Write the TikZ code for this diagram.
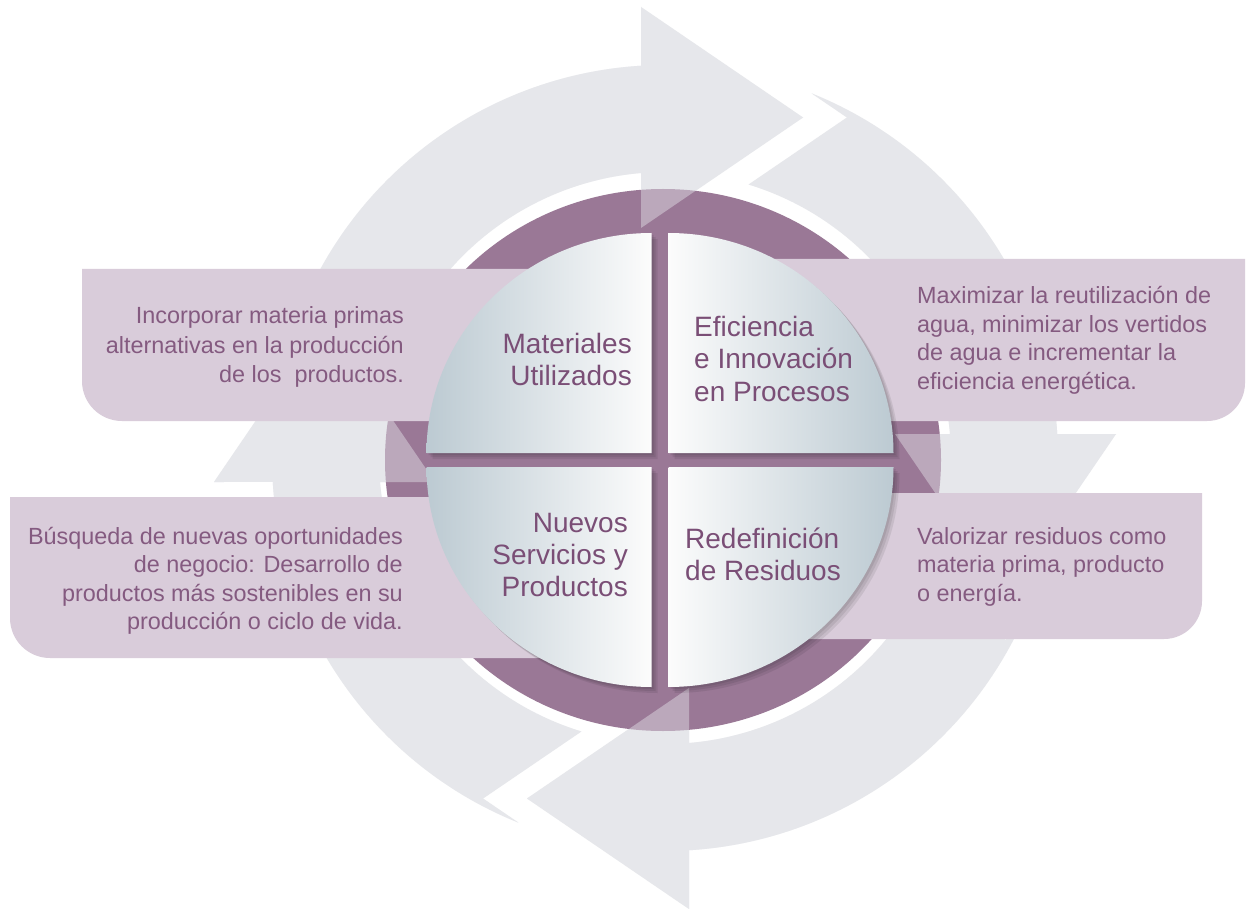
\documentclass[tikz,border=0pt]{standalone}
\usepackage{fontspec}
\setmainfont{Liberation Sans}
\definecolor{ringgray}{RGB}{230,231,235}
\definecolor{diskpurple}{RGB}{154,120,150}
\definecolor{boxlav}{RGB}{217,204,218}
\definecolor{qblue}{RGB}{188,202,210}
\definecolor{qwhite}{RGB}{252,252,252}
\definecolor{boxtext}{RGB}{132,90,128}
\definecolor{qtext}{RGB}{122,78,118}
\begin{document}
\begin{tikzpicture}[x=1pt,y=-1pt,
  boxtxt/.style={text=boxtext, font=\fontsize{23.4}{29}\selectfont, inner sep=0pt},
  qtxt/.style={text=qtext, font=\fontsize{28}{32}\selectfont, inner sep=0pt},
  boxshape/.style={fill=boxlav},
  qshadow/.style={fill=black, opacity=0.08},
  ringframe/.style={shift={(665,458)}, rotate=#1, yscale=-1},
  qframe/.style={shift={(660,460)}, yscale=-1}]
\fill[white] (0,0) rectangle (1248,909);
\useasboundingbox (0,0) rectangle (1248,909);

% circular arrows (opaque)
\foreach \rot in {0,-90,-180,-270}{
  \fill[ringgray, ringframe=\rot] (158.1:393) arc[start angle=158.1, end angle=93.5, radius=393]
    -- (-24,451) -- (138,340.5) -- (-24,230) -- (-24,285)
    arc[start angle=94.82, end angle=163.0, radius=286] -- (-340.5,182) -- cycle;
}
% purple disk
\fill[diskpurple] (663,460) ellipse [x radius=278, y radius=271];
% arrows again, translucent over the disk
\foreach \rot in {0,-90,-180,-270}{
  \fill[ringgray, opacity=0.44, ringframe=\rot] (158.1:393) arc[start angle=158.1, end angle=93.5, radius=393]
    -- (-24,451) -- (138,340.5) -- (-24,230) -- (-24,285)
    arc[start angle=94.82, end angle=163.0, radius=286] -- (-340.5,182) -- cycle;
}

% text boxes
\fill[boxshape] (600,269) -- (82,269) -- (82,381) .. controls (82,403.1) and (99.9,421) .. (122,421) -- (600,421) -- cycle;
\fill[boxshape] (720,259) -- (1245,259) -- (1245,383) .. controls (1245,404) and (1228,421) .. (1207,421) -- (720,421) -- cycle;
\fill[boxshape] (600,497) -- (10,497) -- (10,618) .. controls (10,640.1) and (27.9,658) .. (50,658) -- (600,658) -- cycle;
\fill[boxshape] (720,493) -- (1202,493) -- (1202,601) .. controls (1202,622) and (1185,639) .. (1164,639) -- (720,639) -- cycle;

% quadrant shadows
\begin{scope}[qframe]
\foreach \k in {2,4,6}{
  \fill[qshadow] (-8.5+\k,7-\k) -- (-233.5+\k,7-\k) arc[start angle=180, end angle=90, x radius=225, y radius=220] -- cycle;
  \fill[qshadow] (8.5+\k,7-\k) -- (8.5+\k,227-\k) arc[start angle=90, end angle=0, x radius=225, y radius=220] -- cycle;
  \fill[qshadow] (8.5+\k,-7-\k) -- (233.5+\k,-7-\k) arc[start angle=0, end angle=-90, x radius=225, y radius=220] -- cycle;
  \fill[qshadow] (-8.5+\k,-7-\k) -- (-8.5+\k,-227-\k) arc[start angle=-90, end angle=-180, x radius=225, y radius=220] -- cycle;
}
% quadrants
\shade[left color=qblue, right color=qwhite] (-8.5,7) -- (-233.5,7) arc[start angle=180, end angle=90, x radius=225, y radius=220] -- cycle;
\shade[left color=qwhite, right color=qblue] (8.5,7) -- (8.5,227) arc[start angle=90, end angle=0, x radius=225, y radius=220] -- cycle;
\shade[left color=qwhite, right color=qblue] (8.5,-7) -- (233.5,-7) arc[start angle=0, end angle=-90, x radius=225, y radius=220] -- cycle;
\shade[left color=qblue, right color=qwhite] (-8.5,-7) -- (-8.5,-227) arc[start angle=-90, end angle=-180, x radius=225, y radius=220] -- cycle;
\end{scope}

% quadrant texts
\node[qtxt, anchor=base east] (q1a) at (632,353) {Materiales};
\node[qtxt, anchor=base east] (q1b) at (632,385) {Utilizados};
\node[qtxt, anchor=base west] (q2a) at (694,337) {Eficiencia};
\node[qtxt, anchor=base west] (q2b) at (694,369) {e Innovación};
\node[qtxt, anchor=base west] (q2c) at (694,401) {en Procesos};
\node[qtxt, anchor=base east] (q3a) at (628,532) {Nuevos};
\node[qtxt, anchor=base east] (q3b) at (628,564) {Servicios y};
\node[qtxt, anchor=base east] (q3c) at (628,596) {Productos};
\node[qtxt, anchor=base west] (q4a) at (685,548) {Redefinición};
\node[qtxt, anchor=base west] (q4b) at (685,580) {de Residuos};

% box texts
\node[boxtxt, anchor=base east] (tl1) at (404,324) {Incorporar materia primas};
\node[boxtxt, anchor=base east] (tl2) at (404,353) {alternativas en la producción};
\node[boxtxt, anchor=base east] (tl3) at (404,382) {de los\ \ productos.};

\node[boxtxt, anchor=base west] (tr1) at (917,304) {Maximizar la reutilización de};
\node[boxtxt, anchor=base west] (tr2) at (917,333) {agua, minimizar los vertidos};
\node[boxtxt, anchor=base west] (tr3) at (917,361) {de agua e incrementar la};
\node[boxtxt, anchor=base west] (tr4) at (917,389) {eficiencia energética.};

\node[boxtxt, anchor=base east] (bl1) at (403,544) {Búsqueda de nuevas oportunidades};
\node[boxtxt, anchor=base east] (bl2) at (403,572) {de negocio: Desarrollo de};
\node[boxtxt, anchor=base east] (bl3) at (403,601) {productos más sostenibles en su};
\node[boxtxt, anchor=base east] (bl4) at (403,629) {producción o ciclo de vida.};

\node[boxtxt, anchor=base west] (br1) at (917,544) {Valorizar residuos como};
\node[boxtxt, anchor=base west] (br2) at (917,572) {materia prima, producto};
\node[boxtxt, anchor=base west] (br3) at (917,601) {o energía.};
\end{tikzpicture}
\end{document}
